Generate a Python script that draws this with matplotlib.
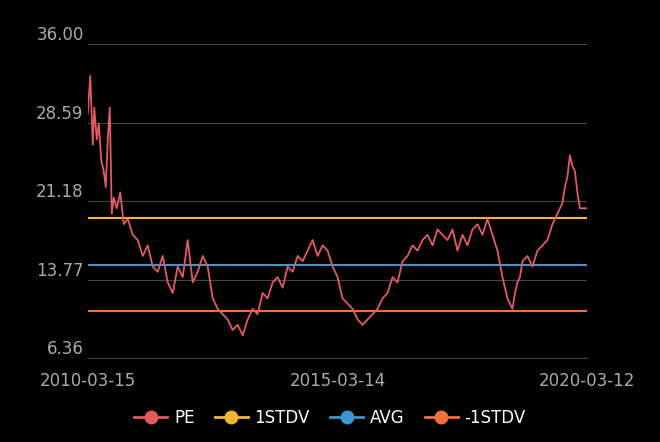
import matplotlib

matplotlib.use("Agg")

import matplotlib.pyplot as plt

# PE trace (fractional year, value)
pe_years = [2010.20, 2010.25, 2010.30, 2010.33, 2010.38, 2010.42, 2010.47, 2010.52, 2010.56, 2010.60, 2010.64,
            2010.68, 2010.72, 2010.78, 2010.85, 2010.92, 2011.00, 2011.10, 2011.20, 2011.30, 2011.40,
            2011.50, 2011.60, 2011.70, 2011.80, 2011.90, 2012.00, 2012.10, 2012.20, 2012.30, 2012.40,
            2012.50, 2012.60, 2012.70, 2012.80, 2012.90, 2013.00, 2013.10, 2013.20, 2013.30, 2013.40,
            2013.50, 2013.60, 2013.70, 2013.80, 2013.90, 2014.00, 2014.10, 2014.20, 2014.30, 2014.40,
            2014.50, 2014.60, 2014.70, 2014.80, 2014.90, 2015.00, 2015.10, 2015.20, 2015.30, 2015.40,
            2015.50, 2015.60, 2015.70, 2015.80, 2015.90, 2016.00, 2016.10, 2016.20, 2016.30, 2016.40,
            2016.50, 2016.60, 2016.70, 2016.80, 2016.90, 2017.00, 2017.10, 2017.20, 2017.30, 2017.40,
            2017.50, 2017.60, 2017.70, 2017.80, 2017.90, 2018.00, 2018.10, 2018.20, 2018.30, 2018.40,
            2018.50, 2018.60, 2018.70, 2018.75, 2018.80, 2018.85, 2018.90, 2019.00, 2019.10, 2019.20,
            2019.30, 2019.40, 2019.50, 2019.60, 2019.70, 2019.75, 2019.80, 2019.85, 2019.90, 2019.95,
            2020.00, 2020.05, 2020.10, 2020.15, 2020.20]
pe_values = [29.5, 33.0, 26.5, 30.0, 27.0, 28.5, 25.0, 24.0, 22.5, 27.0, 30.0,
             20.0, 21.5, 20.5, 22.0, 19.0, 19.5, 18.0, 17.5, 16.0, 17.0,
             15.0, 14.5, 16.0, 13.5, 12.5, 15.0, 14.0, 17.5, 13.5, 14.5,
             16.0, 15.0, 12.0, 11.0, 10.5, 10.0, 9.0, 9.5, 8.5, 10.0,
             11.0, 10.5, 12.5, 12.0, 13.5, 14.0, 13.0, 15.0, 14.5, 16.0,
             15.5, 16.5, 17.5, 16.0, 17.0, 16.5, 15.0, 14.0, 12.0, 11.5,
             11.0, 10.0, 9.5, 10.0, 10.5, 11.0, 12.0, 12.5, 14.0, 13.5,
             15.5, 16.0, 17.0, 16.5, 17.5, 18.0, 17.0, 18.5, 18.0, 17.5,
             18.5, 16.5, 18.0, 17.0, 18.5, 19.0, 18.0, 19.5, 18.0, 16.5,
             14.0, 12.0, 11.0, 12.5, 13.5, 14.0, 15.5, 16.0, 15.0, 16.5,
             17.0, 17.5, 19.0, 20.0, 21.0, 22.5, 23.5, 25.5, 24.5, 24.0,
             22.0, 20.5, 20.5, 20.5, 20.5]
pe_years = pe_years[:len(pe_values)]

stdv_hi = 19.55
avg = 15.1
stdv_lo = 10.8
y_ticks = [6.36, 13.77, 21.18, 28.59, 36.00]
x_ticks = [2010.20, 2015.20, 2020.20]
x_labels = ["2010-03-15", "2015-03-14", "2020-03-12"]

fig = plt.figure(figsize=(6.6, 4.42), dpi=100, facecolor="black")
ax = fig.add_axes([0.133, 0.19, 0.757, 0.71], facecolor="black")

ax.axhline(stdv_hi, color="#f5b731", linewidth=1.5)
ax.axhline(avg, color="#3d97d3", linewidth=1.5)
ax.axhline(stdv_lo, color="#f2703a", linewidth=1.5)
ax.plot(pe_years, pe_values, color="#e05a5f", linewidth=1.3)

ax.set_ylim(6.36, 36.0)
ax.set_xlim(2010.20, 2020.20)
ax.set_yticks(y_ticks)
ax.set_yticklabels([f"{v:.2f}" for v in y_ticks])
ax.set_xticks(x_ticks)
ax.set_xticklabels(x_labels)
ax.grid(axis="y", color="#444444", linewidth=0.8)
for spine in ax.spines.values():
    spine.set_visible(False)
ax.spines["bottom"].set_visible(True)
ax.spines["bottom"].set_color("#444444")
ax.tick_params(colors="#aaaaaa", labelsize=12, length=0)
ax.tick_params(axis="y", pad=3)
ax.tick_params(axis="x", pad=10)
for lab in ax.get_yticklabels():
    lab.set_verticalalignment("bottom")

handles = [
    plt.Line2D([], [], color="#e05a5f", marker="o", markersize=9, linewidth=2),
    plt.Line2D([], [], color="#f5b731", marker="o", markersize=9, linewidth=2),
    plt.Line2D([], [], color="#3d97d3", marker="o", markersize=9, linewidth=2),
    plt.Line2D([], [], color="#f2703a", marker="o", markersize=9, linewidth=2),
]
fig.legend(handles, ["PE", "1STDV", "AVG", "-1STDV"], loc="lower center", ncol=4,
           frameon=False, labelcolor="white", fontsize=12, handlelength=2.0,
           bbox_to_anchor=(0.5, 0.0), columnspacing=1.2, handletextpad=0.4)

fig.savefig("out.png", dpi=100, facecolor="black")
